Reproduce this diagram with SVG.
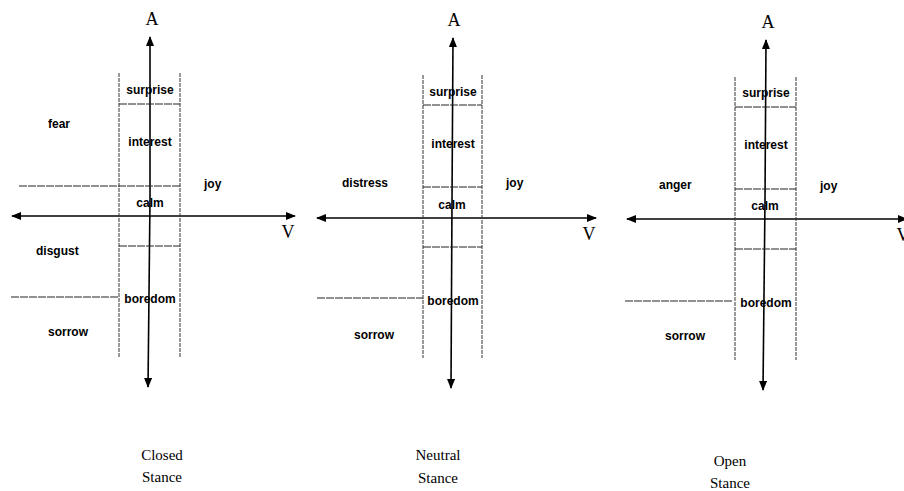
<svg xmlns="http://www.w3.org/2000/svg" width="904" height="491" viewBox="0 0 904 491">
<defs>
<marker id="ah" markerWidth="10" markerHeight="8" refX="9" refY="4" orient="auto" markerUnits="userSpaceOnUse">
<path d="M0,0 L10,4 L0,8 Z" fill="#000"/>
</marker>
<style>
.ax{stroke:#000;stroke-width:1.6;fill:none}
.dv{stroke:#333;stroke-width:1;stroke-dasharray:4 1;fill:none}
.dh{stroke:#222;stroke-width:1;stroke-dasharray:8 1;fill:none}
.lb{font-family:"Liberation Sans",Arial,sans-serif;font-weight:bold;font-size:12px;fill:#000}
.c{text-anchor:middle}
.ser{font-family:"Liberation Serif","Times New Roman",serif;fill:#000}
.axl{font-size:18px;text-anchor:middle}
.cap{font-size:15px;text-anchor:middle}
</style>
</defs>
<rect width="904" height="491" fill="#fff"/>

<g id="connectors">
<!-- panel 1 -->
<line class="ax" x1="150" y1="200" x2="150" y2="37" marker-end="url(#ah)"/>
<line class="ax" x1="150" y1="200" x2="148" y2="387" marker-end="url(#ah)"/>
<line class="ax" x1="150" y1="216" x2="12" y2="216" marker-end="url(#ah)"/>
<line class="ax" x1="150" y1="216" x2="295" y2="216" marker-end="url(#ah)"/>
<!-- panel 2 -->
<line class="ax" x1="452" y1="200" x2="453" y2="38" marker-end="url(#ah)"/>
<line class="ax" x1="452" y1="200" x2="451" y2="388" marker-end="url(#ah)"/>
<line class="ax" x1="452" y1="218" x2="317" y2="218" marker-end="url(#ah)"/>
<line class="ax" x1="452" y1="218" x2="596" y2="218" marker-end="url(#ah)"/>
<!-- panel 3 -->
<line class="ax" x1="765" y1="200" x2="766" y2="40" marker-end="url(#ah)"/>
<line class="ax" x1="765" y1="200" x2="763" y2="390" marker-end="url(#ah)"/>
<line class="ax" x1="765" y1="219" x2="627" y2="219" marker-end="url(#ah)"/>
<line class="ax" x1="765" y1="219" x2="907" y2="219" marker-end="url(#ah)"/>
</g>

<g id="closed-stance">
<line class="dv" x1="119" y1="73" x2="119" y2="357"/>
<line class="dv" x1="180" y1="73" x2="180" y2="357"/>
<line class="dh" x1="119" y1="104" x2="180" y2="104"/>
<line class="dh" x1="19" y1="186" x2="180" y2="186"/>
<line class="dh" x1="119" y1="246" x2="180" y2="246"/>
<line class="dh" x1="11" y1="297" x2="119" y2="297"/>
<text class="ser axl" x="152" y="25">A</text>
<text class="ser axl" x="288" y="238">V</text>
<text class="lb c" x="150" y="94">surprise</text>
<text class="lb" x="48" y="128">fear</text>
<text class="lb c" x="150" y="146">interest</text>
<text class="lb" x="204" y="188">joy</text>
<text class="lb c" x="150" y="207">calm</text>
<text class="lb" x="36" y="255">disgust</text>
<text class="lb c" x="150" y="303">boredom</text>
<text class="lb" x="48" y="336">sorrow</text>
<text class="ser cap" x="162" y="460">Closed</text>
<text class="ser cap" x="162" y="482">Stance</text>
</g>

<g id="neutral-stance">
<line class="dv" x1="423" y1="75" x2="423" y2="358"/>
<line class="dv" x1="482" y1="75" x2="482" y2="358"/>
<line class="dh" x1="423" y1="105" x2="482" y2="105"/>
<line class="dh" x1="423" y1="187" x2="482" y2="187"/>
<line class="dh" x1="423" y1="247" x2="482" y2="247"/>
<line class="dh" x1="317" y1="298" x2="423" y2="298"/>
<text class="ser axl" x="454" y="26">A</text>
<text class="ser axl" x="589" y="240">V</text>
<text class="lb c" x="453" y="96">surprise</text>
<text class="lb c" x="453" y="148">interest</text>
<text class="lb" x="342" y="187">distress</text>
<text class="lb" x="506" y="187">joy</text>
<text class="lb c" x="452" y="209">calm</text>
<text class="lb c" x="453" y="305">boredom</text>
<text class="lb" x="354" y="339">sorrow</text>
<text class="ser cap" x="438" y="460">Neutral</text>
<text class="ser cap" x="438" y="483">Stance</text>
</g>

<g id="open-stance">
<line class="dv" x1="735" y1="77" x2="735" y2="360"/>
<line class="dv" x1="796" y1="77" x2="796" y2="360"/>
<line class="dh" x1="735" y1="107" x2="796" y2="107"/>
<line class="dh" x1="735" y1="189" x2="796" y2="189"/>
<line class="dh" x1="735" y1="249" x2="796" y2="249"/>
<line class="dh" x1="625" y1="301" x2="733" y2="301"/>
<text class="ser axl" x="768" y="28">A</text>
<text class="ser axl" x="903" y="241">V</text>
<text class="lb c" x="766" y="97">surprise</text>
<text class="lb c" x="766" y="149">interest</text>
<text class="lb" x="659" y="189">anger</text>
<text class="lb" x="820" y="190">joy</text>
<text class="lb c" x="765" y="210">calm</text>
<text class="lb c" x="766" y="307">boredom</text>
<text class="lb" x="665" y="340">sorrow</text>
<text class="ser cap" x="730" y="466">Open</text>
<text class="ser cap" x="730" y="488">Stance</text>
</g>
</svg>
